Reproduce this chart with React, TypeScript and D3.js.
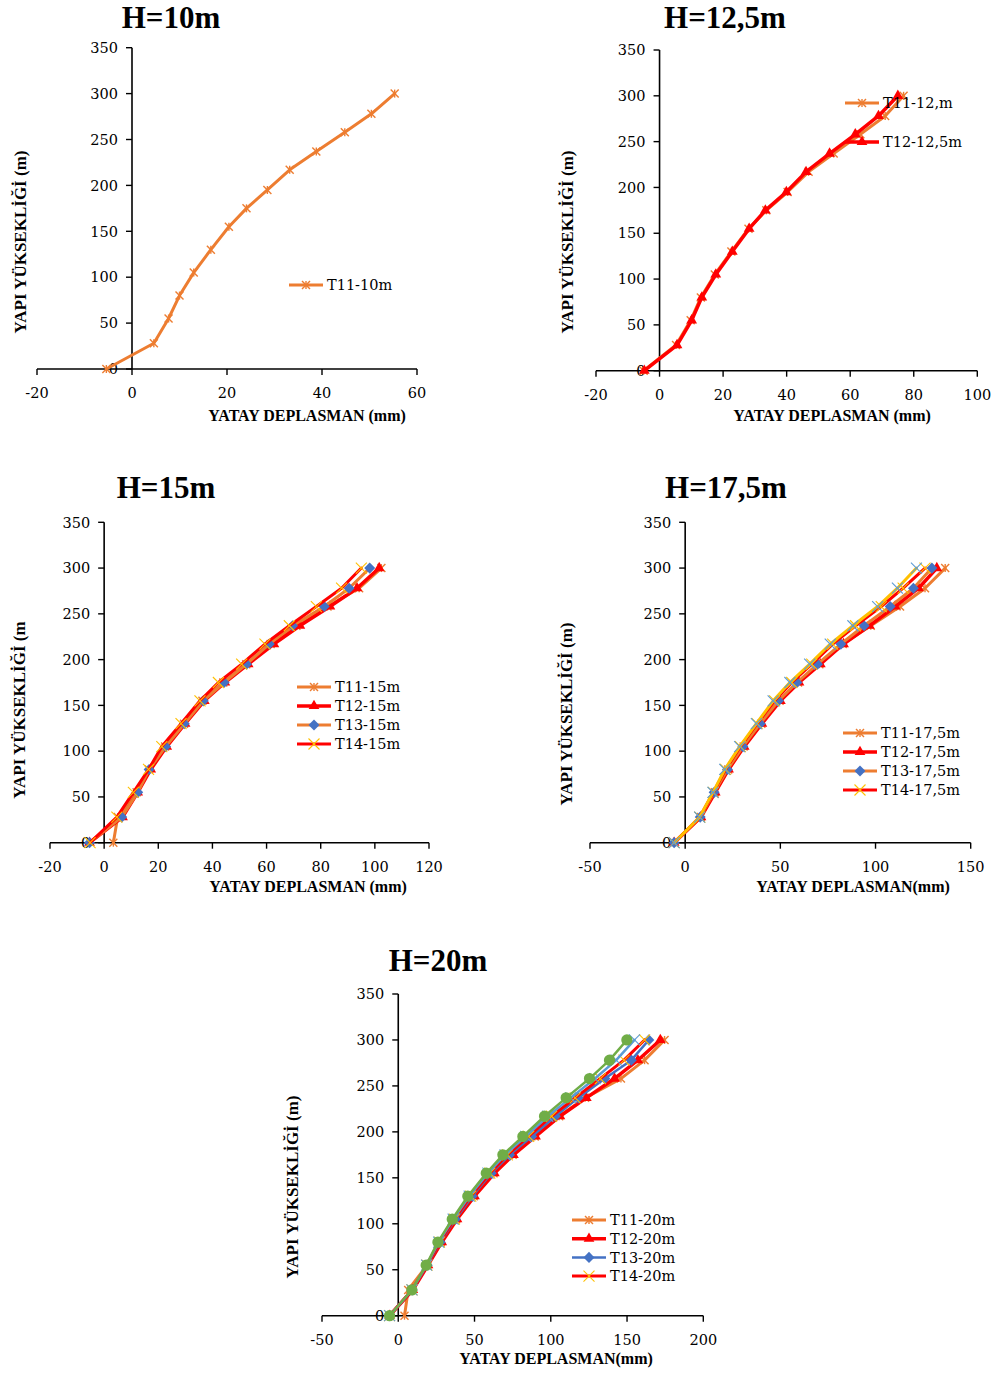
import React from "react";
import * as d3 from "d3";

// Storey heights (m) shared by every profile
const HEIGHTS = [0, 28, 55, 80, 105, 130, 155, 175, 195, 217, 237, 258, 278, 300];

// Lateral displacement (mm) per storey
const H10_T11 = [-5.4, 4.6, 7.7, 10.0, 13.0, 16.6, 20.4, 24.1, 28.5, 33.2, 38.8, 44.8, 50.4, 55.3];

const H125_T11 = [-5.0, 5.2, 9.8, 13.0, 17.4, 22.6, 28.0, 33.6, 40.3, 46.9, 54.8, 63.2, 71.0, 76.8];
const H125_T12 = [-4.8, 5.5, 10.1, 13.3, 17.7, 22.9, 28.2, 33.3, 39.9, 46.1, 53.5, 61.6, 68.9, 75.0];

const H15_T11 = [3.4, 5.0, 12.0, 16.5, 22.5, 29.5, 36.3, 44.0, 52.5, 61.5, 71.0, 82.5, 94.2, 102.4];
const H15_T12 = [-5.4, 6.8, 12.4, 17.2, 23.1, 29.9, 37.0, 44.6, 53.2, 62.7, 72.3, 83.4, 93.4, 101.6];
const H15_T13 = [-5.4, 6.5, 12.4, 16.6, 22.7, 29.6, 36.6, 44.3, 52.6, 61.0, 69.6, 81.3, 90.5, 98.1];
const H15_T14 = [-5.2, 4.7, 10.8, 16.4, 21.3, 28.4, 35.4, 42.2, 50.8, 59.4, 68.4, 78.4, 87.7, 95.0];

const H175_T11 = [-5.8, 8.2, 15.6, 22.6, 30.7, 40.0, 49.6, 59.3, 70.5, 82.8, 97.5, 112.9, 126.0, 136.6];
const H175_T12 = [-5.8, 8.3, 15.8, 22.8, 31.0, 40.3, 50.0, 59.8, 71.0, 83.2, 96.8, 110.3, 122.6, 132.2];
const H175_T13 = [-5.8, 7.9, 15.2, 22.2, 30.3, 39.4, 49.0, 58.7, 69.5, 81.8, 94.0, 107.7, 119.9, 129.6];
const H175_T14 = [-5.8, 7.7, 14.8, 21.2, 29.0, 37.8, 47.0, 56.0, 66.5, 77.5, 89.5, 103.0, 114.5, 126.0];
const H175_T15 = [-5.8, 7.6, 14.6, 20.8, 28.6, 37.4, 46.2, 55.0, 65.4, 76.2, 88.1, 101.1, 111.5, 121.5];

const H20_T11 = [4.1, 6.5, 19.0, 28.0, 38.0, 49.5, 62.5, 75.0, 89.5, 105.5, 122.5, 146.0, 161.5, 174.6];
const H20_T12 = [-5.7, 9.5, 19.5, 28.5, 38.5, 50.0, 63.0, 75.5, 90.0, 106.0, 123.3, 141.8, 157.1, 171.8];
const H20_T13 = [-5.7, 9.2, 19.0, 27.5, 37.5, 48.5, 61.0, 73.0, 87.5, 103.0, 118.0, 135.5, 152.8, 164.3];
const H20_T14 = [-5.7, 9.0, 18.8, 27.0, 36.8, 47.5, 60.0, 71.5, 85.5, 100.5, 116.0, 132.5, 148.0, 161.5];
const H20_T15 = [-5.7, 9.0, 18.6, 26.5, 36.0, 46.5, 58.8, 70.0, 83.5, 98.0, 113.0, 129.0, 142.9, 154.9];
const H20_T16 = [-5.7, 8.9, 18.3, 26.0, 35.4, 45.6, 57.7, 68.6, 81.7, 95.9, 110.1, 125.4, 138.5, 149.9];

// Axis tick values
const Y_TICKS = [0, 50, 100, 150, 200, 250, 300, 350];
const X_TICKS_10 = [-20, 0, 20, 40, 60];
const X_TICKS_125 = [-20, 0, 20, 40, 60, 80, 100];
const X_TICKS_15 = [-20, 0, 20, 40, 60, 80, 100, 120];
const X_TICKS_175 = [-50, 0, 50, 100, 150];
const X_TICKS_20 = [-50, 0, 50, 100, 150, 200];

const ORANGE = "#ED7D31";
const RED = "#FF0000";
const BLUE = "#4472C4";
const GOLD = "#FFC000";
const LIGHT_BLUE = "#5B9BD5";
const GREEN = "#70AD47";

type MarkerKind = "star" | "cross" | "triangle" | "diamond" | "circle";

type Series = {
  name: string;
  values: number[];
  stroke: string;
  width: number;
  marker: MarkerKind;
  markerColor: string;
  markerSize: number;
  legend: boolean;
};

const s = (
  name: string,
  values: number[],
  stroke: string,
  width: number,
  marker: MarkerKind,
  markerColor: string,
  markerSize: number,
  legend = true
): Series => ({ name, values, stroke, width, marker, markerColor, markerSize, legend });

type Panel = {
  title: string;
  titleX: number;
  titleY: number;
  px: [number, number];
  py: [number, number];
  xDomain: [number, number];
  xTicks: number[];
  xTitle: string;
  xTitlePos: [number, number];
  yTitle: string;
  yTitlePos: [number, number];
  legend: { x: number; y: number; dy: number };
  series: Series[];
};

const PANELS: Panel[] = [
  {
    title: "H=10m",
    titleX: 171,
    titleY: 28,
    px: [37, 417],
    py: [369, 47.7],
    xDomain: [-20, 60],
    xTicks: X_TICKS_10,
    xTitle: "YATAY DEPLASMAN (mm)",
    xTitlePos: [307, 421],
    yTitle: "YAPI YÜKSEKLİĞİ (m)",
    yTitlePos: [20, 242],
    legend: { x: 289, y: 285, dy: 19 },
    series: [s("T11-10m", H10_T11, ORANGE, 3, "star", ORANGE, 8)],
  },
  {
    title: "H=12,5m",
    titleX: 725,
    titleY: 28,
    px: [596, 977.3],
    py: [370.7, 50],
    xDomain: [-20, 100],
    xTicks: X_TICKS_125,
    xTitle: "YATAY DEPLASMAN (mm)",
    xTitlePos: [832, 421],
    yTitle: "YAPI YÜKSEKLİĞİ (m)",
    yTitlePos: [567, 242],
    legend: { x: 845, y: 103, dy: 39 },
    series: [
      s("T11-12,m", H125_T11, ORANGE, 3, "star", ORANGE, 8),
      s("T12-12,5m", H125_T12, RED, 3.5, "triangle", RED, 50),
    ],
  },
  {
    title: "H=15m",
    titleX: 166,
    titleY: 498,
    px: [50, 429],
    py: [842.7, 522.3],
    xDomain: [-20, 120],
    xTicks: X_TICKS_15,
    xTitle: "YATAY DEPLASMAN (mm)",
    xTitlePos: [308, 892],
    yTitle: "YAPI YÜKSEKLİĞİ (m",
    yTitlePos: [19, 710],
    legend: { x: 297, y: 687, dy: 19 },
    series: [
      s("T11-15m", H15_T11, ORANGE, 3, "star", ORANGE, 8),
      s("T12-15m", H15_T12, RED, 3.5, "triangle", RED, 50),
      s("T13-15m", H15_T13, ORANGE, 3, "diamond", BLUE, 36),
      s("T14-15m", H15_T14, RED, 3, "cross", GOLD, 11),
    ],
  },
  {
    title: "H=17,5m",
    titleX: 726,
    titleY: 498,
    px: [590, 970.7],
    py: [842.7, 522.3],
    xDomain: [-50, 150],
    xTicks: X_TICKS_175,
    xTitle: "YATAY DEPLASMAN(mm)",
    xTitlePos: [853, 892],
    yTitle: "YAPI YÜKSEKLİĞİ (m)",
    yTitlePos: [566, 714],
    legend: { x: 843, y: 733, dy: 19 },
    series: [
      s("T11-17,5m", H175_T11, ORANGE, 3, "star", ORANGE, 8),
      s("T12-17,5m", H175_T12, RED, 3.5, "triangle", RED, 50),
      s("T13-17,5m", H175_T13, ORANGE, 3, "diamond", BLUE, 36),
      s("T14-17,5m", H175_T14, RED, 3, "cross", GOLD, 11),
      s("T15-17,5m", H175_T15, GOLD, 3, "cross", LIGHT_BLUE, 11, false),
    ],
  },
  {
    title: "H=20m",
    titleX: 438,
    titleY: 971,
    px: [322, 703.3],
    py: [1315.7, 994],
    xDomain: [-50, 200],
    xTicks: X_TICKS_20,
    xTitle: "YATAY DEPLASMAN(mm)",
    xTitlePos: [556, 1364],
    yTitle: "YAPI YÜKSEKLİĞİ (m)",
    yTitlePos: [292, 1187],
    legend: { x: 572, y: 1220, dy: 18.7 },
    series: [
      s("T11-20m", H20_T11, ORANGE, 3, "star", ORANGE, 8),
      s("T12-20m", H20_T12, RED, 3.5, "triangle", RED, 50),
      s("T13-20m", H20_T13, BLUE, 2.5, "diamond", BLUE, 36),
      s("T14-20m", H20_T14, RED, 3, "cross", GOLD, 11),
      s("T15-20m", H20_T15, LIGHT_BLUE, 2.5, "cross", LIGHT_BLUE, 11, false),
      s("T16-20m", H20_T16, GREEN, 2.5, "circle", GREEN, 100, false),
    ],
  },
];

const TICK_FONT = "'DejaVu Serif', serif";
const BOLD_FONT = "'Liberation Serif', 'Times New Roman', serif";

function Marker({ kind, x, y, color, size }: { kind: MarkerKind; x: number; y: number; color: string; size: number }) {
  if (kind === "star" || kind === "cross") {
    const h = size / 2;
    return (
      <g stroke={color} strokeWidth={kind === "star" ? 1.4 : 1.1} fill="none">
        <line x1={x - h} y1={y - h} x2={x + h} y2={y + h} />
        <line x1={x - h} y1={y + h} x2={x + h} y2={y - h} />
        {kind === "star" && <line x1={x} y1={y - h} x2={x} y2={y + h} />}
      </g>
    );
  }
  const type = kind === "triangle" ? d3.symbolTriangle : kind === "diamond" ? d3.symbolDiamond : d3.symbolCircle;
  const d = d3.symbol().type(type).size(size)() || "";
  const sx = kind === "diamond" ? 1.7 : 1;
  return <path d={d} transform={`translate(${x},${y}) scale(${sx},1)`} fill={color} />;
}

function ChartPanel({ p }: { p: Panel }) {
  const x = d3.scaleLinear().domain(p.xDomain).range(p.px);
  const y = d3.scaleLinear().domain([0, 350]).range(p.py);
  const x0 = x(0);
  const y0 = y(0);
  const line = d3
    .line<[number, number]>()
    .x((d) => x(d[0]))
    .y((d) => y(d[1]));

  const legendItems = p.series.filter((d) => d.legend);

  return (
    <g>
      <text
        x={p.titleX}
        y={p.titleY}
        textAnchor="middle"
        fontFamily={BOLD_FONT}
        fontWeight="bold"
        fontSize={31}
        fill="#000"
      >
        {p.title}
      </text>

      {/* axes */}
      <line x1={p.px[0]} x2={p.px[1]} y1={y0} y2={y0} stroke="#000" strokeWidth={1.6} />
      <line x1={x0} x2={x0} y1={y0} y2={p.py[1]} stroke="#000" strokeWidth={1.6} />
      {p.xTicks.map((t) => (
        <g key={"xt" + t}>
          <line x1={x(t)} x2={x(t)} y1={y0} y2={y0 + 6} stroke="#000" strokeWidth={1.4} />
          <text x={x(t)} y={y0 + 29} textAnchor="middle" fontFamily={TICK_FONT} fontSize={14.5} fill="#000">
            {t}
          </text>
        </g>
      ))}
      {Y_TICKS.map((t) => (
        <g key={"yt" + t}>
          <line x1={x0 - 6} x2={x0} y1={y(t)} y2={y(t)} stroke="#000" strokeWidth={1.4} />
          <text x={x0 - 14} y={y(t)} dy="0.36em" textAnchor="end" fontFamily={TICK_FONT} fontSize={14.5} fill="#000">
            {t}
          </text>
        </g>
      ))}

      {/* axis titles */}
      <text
        x={p.xTitlePos[0]}
        y={p.xTitlePos[1]}
        textAnchor="middle"
        fontFamily={BOLD_FONT}
        fontWeight="bold"
        fontSize={16}
        fill="#000"
      >
        {p.xTitle}
      </text>
      <text
        transform={`translate(${p.yTitlePos[0]},${p.yTitlePos[1]}) rotate(-90)`}
        dy="0.35em"
        textAnchor="middle"
        fontFamily={BOLD_FONT}
        fontWeight="bold"
        fontSize={17}
        fill="#000"
      >
        {p.yTitle}
      </text>

      {/* profiles */}
      {p.series.map((ser) => {
        const pts = ser.values.map((v, i) => [v, HEIGHTS[i]] as [number, number]);
        return (
          <g key={ser.name}>
            <path
              d={line(pts) || ""}
              fill="none"
              stroke={ser.stroke}
              strokeWidth={ser.width}
              strokeLinejoin="round"
              strokeLinecap="round"
            />
            {pts.map((d, i) => (
              <Marker key={i} kind={ser.marker} x={x(d[0])} y={y(d[1])} color={ser.markerColor} size={ser.markerSize} />
            ))}
          </g>
        );
      })}

      {/* legend */}
      {legendItems.map((ser, i) => {
        const ly = p.legend.y + i * p.legend.dy;
        const lx = p.legend.x;
        return (
          <g key={"lg" + ser.name}>
            <line x1={lx} x2={lx + 34} y1={ly} y2={ly} stroke={ser.stroke} strokeWidth={ser.width} />
            <Marker kind={ser.marker} x={lx + 17} y={ly} color={ser.markerColor} size={ser.markerSize} />
            <text x={lx + 38} y={ly} dy="0.36em" fontFamily={TICK_FONT} fontSize={14.5} fill="#000">
              {ser.name}
            </text>
          </g>
        );
      })}
    </g>
  );
}

export default function App() {
  return (
    <div style={{ position: "absolute", left: 0, top: 0, width: 1000, height: 1373, background: "#fff" }}>
      <svg width={1000} height={1373} viewBox="0 0 1000 1373" style={{ display: "block" }}>
        <rect x={0} y={0} width={1000} height={1373} fill="#fff" />
        {PANELS.map((p) => (
          <ChartPanel key={p.title} p={p} />
        ))}
      </svg>
    </div>
  );
}
